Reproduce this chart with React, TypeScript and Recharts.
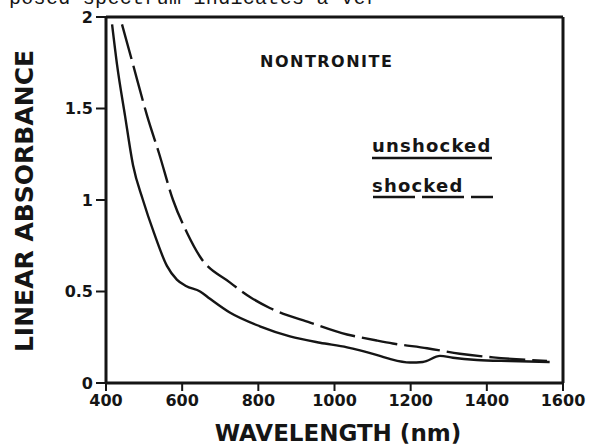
import { Label, Line, LineChart, ReferenceLine, XAxis, YAxis } from "recharts";

// wavelength (nm) and linear absorbance
const unshockedNm = [416, 429, 450, 471, 497, 526, 560, 586, 610, 647, 673, 725, 804, 883, 962, 1033, 1067, 1119, 1145, 1198, 1232, 1277, 1311, 1374, 1460, 1565];
const unshockedAbs = [1.96, 1.74, 1.46, 1.19, 1.0, 0.82, 0.64, 0.565, 0.53, 0.5, 0.46, 0.385, 0.31, 0.255, 0.22, 0.195, 0.178, 0.148, 0.132, 0.112, 0.115, 0.148, 0.138, 0.126, 0.12, 0.115];

const shockedNm = [442, 471, 508, 540, 576, 613, 647, 725, 778, 830, 936, 1033, 1067, 1111, 1153, 1243, 1329, 1416, 1558];
const shockedAbs = [1.96, 1.74, 1.46, 1.25, 1.0, 0.82, 0.69, 0.55, 0.47, 0.41, 0.33, 0.265, 0.25, 0.232, 0.216, 0.19, 0.16, 0.14, 0.12];

const xTicks = [400, 600, 800, 1000, 1200, 1400, 1600];
const yTicks = [0, 0.5, 1, 1.5, 2];

const unshocked = unshockedNm.map((w, i) => ({ w, a: unshockedAbs[i] }));
const shocked = shockedNm.map((w, i) => ({ w, a: shockedAbs[i] }));

const INK = "#151515";
const tickFont = { fill: INK, fontSize: 16, fontWeight: 700, fontFamily: "DejaVu Sans" };

export default function App() {
  return (
    <div style={{ position: "absolute", left: 0, top: 0, width: 591, height: 445, background: "#fff" }}>
      <LineChart width={591} height={445} data={unshocked} margin={{ top: 17, right: 28, bottom: 0, left: 0 }}>
        <XAxis
          type="number"
          dataKey="w"
          domain={[400, 1600]}
          ticks={xTicks}
          allowDataOverflow
          height={62}
          tick={tickFont}
          tickSize={8}
          tickMargin={4}
          axisLine={{ stroke: INK, strokeWidth: 3 }}
          tickLine={{ stroke: INK, strokeWidth: 2 }}
        >
          <Label
            content={() => (
              <text x={338} y={441} textAnchor="middle" fill={INK} fontSize={23} fontWeight={700} fontFamily="DejaVu Sans">
                WAVELENGTH (nm)
              </text>
            )}
          />
        </XAxis>
        <YAxis
          type="number"
          domain={[0, 2]}
          ticks={yTicks}
          width={106}
          tick={tickFont}
          tickSize={10}
          tickMargin={3}
          tickFormatter={(v: number) => String(v)}
          axisLine={{ stroke: INK, strokeWidth: 3 }}
          tickLine={{ stroke: INK, strokeWidth: 2 }}
        >
          <Label
            content={() => (
              <text
                x={24}
                y={201}
                transform="rotate(-90 24 201)"
                textAnchor="middle"
                dominantBaseline="central"
                fill={INK}
                fontSize={25}
                fontWeight={700}
                fontFamily="DejaVu Sans"
              >
                LINEAR ABSORBANCE
              </text>
            )}
          />
        </YAxis>
        <ReferenceLine y={2} stroke={INK} strokeWidth={3} />
        <ReferenceLine x={1600} stroke={INK} strokeWidth={3} />
        <Line data={unshocked} dataKey="a" type="monotone" stroke={INK} strokeWidth={2.4} dot={false} isAnimationActive={false} />
        <Line
          data={shocked}
          dataKey="a"
          type="monotone"
          stroke={INK}
          strokeWidth={2.4}
          strokeDasharray="36 7"
          dot={false}
          isAnimationActive={false}
        />
      </LineChart>
      <svg width={591} height={445} style={{ position: "absolute", left: 0, top: 0, pointerEvents: "none" }}>
        <text x={9} y={4} fontSize={20} letterSpacing={0.3} fontFamily="Liberation Mono" fill={INK}>
          posed spectrum indicates a ver
        </text>
        <text x={260} y={67} fontSize={16} fontWeight={700} letterSpacing={1.5} fontFamily="DejaVu Sans" fill={INK}>
          NONTRONITE
        </text>
        <text x={372} y={152} fontSize={18} fontWeight={700} letterSpacing={1.2} fontFamily="DejaVu Sans" fill={INK}>
          unshocked
        </text>
        <line x1={372} x2={492} y1={158} y2={158} stroke={INK} strokeWidth={2.4} />
        <text x={372} y={192} fontSize={18} fontWeight={700} letterSpacing={1.2} fontFamily="DejaVu Sans" fill={INK}>
          shocked
        </text>
        <line x1={373} x2={493} y1={197} y2={197} stroke={INK} strokeWidth={2.4} strokeDasharray="42 7" />
      </svg>
    </div>
  );
}
